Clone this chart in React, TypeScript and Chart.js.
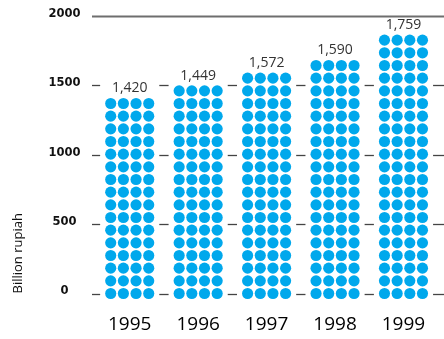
import React, { useEffect, useRef } from 'react';
import { Chart, registerables } from 'chart.js';

Chart.register(...registerables);

const years = ['1995', '1996', '1997', '1998', '1999'];
const values = [1420, 1449, 1572, 1590, 1759];
const valueLabels = ['1,420', '1,449', '1,572', '1,590', '1,759'];
const dotRows = [16, 17, 18, 19, 21];
const yTicks = [0, 500, 1000, 1500, 2000];

const DOT_COLS = 4;
const ROW_VALUE = 91.2; // data units per row of dots
const DOT_COLOR = '#00A8EC';

const dotGeom = (chart: any) => {
  const y = chart.scales.y;
  const step = y.getPixelForValue(0) - y.getPixelForValue(ROW_VALUE);
  return { step, r: step * 0.44 };
};

const gridPlugin = {
  id: 'dotGrid',
  beforeDatasetsDraw(chart: any) {
    const { ctx, chartArea } = chart;
    const yScale = chart.scales.y;
    const meta = chart.getDatasetMeta(0);
    const { step, r } = dotGeom(chart);
    const half = ((DOT_COLS - 1) / 2) * step + r + 5;
    const x0 = chartArea.left - 3.5;
    const x1 = chart.width;
    ctx.save();
    yTicks.forEach((v) => {
      const y = Math.round(yScale.getPixelForValue(v)) + 0.5;
      if (v === yScale.max) {
        ctx.strokeStyle = '#6e6e6e';
        ctx.lineWidth = 2;
        ctx.beginPath();
        ctx.moveTo(x0, y);
        ctx.lineTo(x1, y);
        ctx.stroke();
        return;
      }
      ctx.strokeStyle = '#444';
      ctx.lineWidth = 1.3;
      let start = x0;
      meta.data.forEach((el: any) => {
        const a = el.x - half;
        if (a > start) {
          ctx.beginPath();
          ctx.moveTo(start, y);
          ctx.lineTo(a, y);
          ctx.stroke();
        }
        start = el.x + half;
      });
      if (x1 > start) {
        ctx.beginPath();
        ctx.moveTo(start, y);
        ctx.lineTo(x1, y);
        ctx.stroke();
      }
    });
    ctx.restore();
  },
  afterDatasetsDraw(chart: any) {
    const { ctx } = chart;
    const yScale = chart.scales.y;
    const meta = chart.getDatasetMeta(0);
    const { step, r } = dotGeom(chart);
    ctx.save();
    meta.data.forEach((el: any, i: number) => {
      ctx.fillStyle = DOT_COLOR;
      for (let row = 0; row < dotRows[i]; row++) {
        const cy = yScale.getPixelForValue(row * ROW_VALUE);
        for (let c = 0; c < DOT_COLS; c++) {
          const cx = el.x + (c - (DOT_COLS - 1) / 2) * step;
          ctx.beginPath();
          ctx.arc(cx, cy, r, 0, Math.PI * 2);
          ctx.fill();
        }
      }
      const topY = yScale.getPixelForValue((dotRows[i] - 1) * ROW_VALUE);
      ctx.fillStyle = '#333';
      ctx.font = '14px "Open Sans"';
      ctx.textAlign = 'center';
      ctx.textBaseline = 'middle';
      ctx.fillText(valueLabels[i], el.x, topY - 15);
    });
    ctx.restore();
  },
};

export default function App() {
  const ref = useRef<HTMLCanvasElement | null>(null);

  useEffect(() => {
    document.body.style.margin = '0';
    const canvas = ref.current;
    if (!canvas) return;
    const chart = new Chart(canvas, {
      type: 'bar',
      data: {
        labels: years,
        datasets: [
          {
            data: values,
            backgroundColor: 'rgba(0,0,0,0)',
            borderWidth: 0,
          },
        ],
      },
      options: {
        animation: false,
        responsive: false,
        layout: { padding: { top: 15.7, right: 6.3, bottom: 0, left: 0 } },
        plugins: {
          legend: { display: false },
          tooltip: { enabled: false },
        },
        scales: {
          x: {
            grid: { display: false, drawTicks: false },
            border: { display: false },
            ticks: {
              font: { family: 'Open Sans', size: 19 },
              color: '#000',
              padding: 20,
            },
            afterFit: (s: any) => {
              s.height = 45.5;
              s.paddingLeft = 0;
              s.paddingRight = 0;
            },
          },
          y: {
            min: 0,
            max: 2000,
            grid: { display: false, drawTicks: false },
            border: { display: false },
            afterBuildTicks: (s: any) => {
              s.ticks = yTicks.map((v) => ({ value: v }));
            },
            ticks: {
              crossAlign: 'center',
              padding: 15,
              labelOffset: -2,
              font: { family: 'DejaVu Sans', size: 11.5, weight: 'bold' },
              color: '#111',
              callback: (v: any) => String(v),
            },
            title: {
              display: true,
              text: 'Billion rupiah',
              align: 'start',
              color: '#111',
              font: { family: 'Open Sans', size: 13 },
              padding: { top: 10, bottom: 0 },
            },
            afterFit: (s: any) => {
              s.width = 95.5;
              s.paddingTop = 0;
              s.paddingBottom = 0;
            },
          },
        },
      } as any,
      plugins: [gridPlugin],
    });
    return () => chart.destroy();
  }, []);

  return (
    <div style={{ position: 'absolute', left: 0, top: 0, width: 444, height: 339 }}>
      <canvas ref={ref} width={444} height={339} />
    </div>
  );
}
